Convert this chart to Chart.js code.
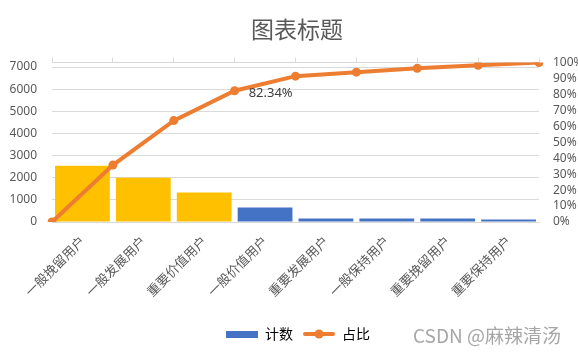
<!DOCTYPE html>
<html>
<head>
<meta charset="utf-8">
<script src="https://cdn.jsdelivr.net/npm/chart.js@4.4.1/dist/chart.umd.min.js"></script>
<style>
	html, body { margin: 0; padding: 0; background: #fff; }
	#wrap { width: 578px; height: 354px; }
</style>
</head>
<body>
<div id="wrap"><canvas id="chart" width="578" height="354"></canvas></div>
<script>
// Data
var categories = ['一般挽留用户', '一般发展用户', '重要价值用户', '一般价值用户', '重要发展用户', '一般保持用户', '重要挽留用户', '重要保持用户'];
var counts = [2540, 2000, 1330, 650, 160, 160, 160, 110];
var ratioLabels = ['', '一般挽留用户', '一般发展用户', '重要价值用户', '一般价值用户', '重要发展用户', '一般保持用户', '重要挽留用户', '重要保持用户'];
var ratio = [0, 35.7, 63.6, 82.34, 91.5, 94.0, 96.4, 98.3, 100];
var leftTicks = [0, 1000, 2000, 3000, 4000, 5000, 6000, 7000];
var rightTicks = [0, 10, 20, 30, 40, 50, 60, 70, 80, 90, 100];
var highlightCount = 3;

(function() {
	'use strict';

	var FONT = '"Noto Sans CJK SC", "Noto Sans", sans-serif';
	var NUMFONT = '"Noto Sans", "Noto Sans CJK SC", sans-serif';
	var GRID = '#d9d9d9';
	var TEXT = '#595959';
	var BLUE = '#4472C4';
	var GOLD = '#FFC000';
	var ORANGE = '#ED7D31';

	var barColors = counts.map(function(v, i) { return i < highlightCount ? GOLD : BLUE; });

	// Legend symbols drawn on small canvases
	var barSymbol = document.createElement('canvas');
	barSymbol.width = 32; barSymbol.height = 7;
	var bctx = barSymbol.getContext('2d');
	bctx.fillStyle = BLUE;
	bctx.fillRect(0, 0, 32, 7);

	var lineSymbol = document.createElement('canvas');
	lineSymbol.width = 32; lineSymbol.height = 10;
	var lctx = lineSymbol.getContext('2d');
	lctx.strokeStyle = ORANGE;
	lctx.lineWidth = 4;
	lctx.lineCap = 'round';
	lctx.beginPath(); lctx.moveTo(2, 5); lctx.lineTo(30, 5); lctx.stroke();
	lctx.fillStyle = ORANGE;
	lctx.beginPath(); lctx.arc(16, 5, 4.5, 0, Math.PI * 2); lctx.fill();

	function fixedTicks(list) {
		return function(scale) {
			scale.ticks = list.map(function(v) { return { value: v }; });
		};
	}

	var extras = {
		id: 'extras',
		afterLayout: function(chart) {
			// Title and legend sit a little right of centre in the original
			chart.titleBlock.left += 8;
			chart.titleBlock.right += 8;
			chart.legend.left += 9;
			chart.legend.right += 9;
		},
		afterDatasetsDraw: function(chart) {
			var ctx = chart.ctx;
			var pt = chart.getDatasetMeta(1).data[3];
			ctx.save();
			ctx.font = '13px ' + NUMFONT;
			ctx.fillStyle = '#404040';
			ctx.textAlign = 'left';
			ctx.textBaseline = 'middle';
			ctx.fillText(ratio[3].toFixed(2) + '%', pt.x + 14, pt.y + 3);
			ctx.restore();
		},
		afterDraw: function(chart) {
			var ctx = chart.ctx;
			ctx.save();
			ctx.font = '19px ' + FONT;
			ctx.fillStyle = '#a6a6a6';
			ctx.textAlign = 'left';
			ctx.textBaseline = 'middle';
			ctx.fillText('CSDN @麻辣清汤', 413, 336);
			ctx.restore();
		}
	};

	new Chart(document.getElementById('chart'), {
		type: 'bar',
		data: {
			labels: categories,
			datasets: [
				{
					type: 'bar',
					label: '计数',
					data: counts,
					backgroundColor: barColors,
					borderWidth: 0,
					grouped: false,
					barPercentage: 0.9,
					categoryPercentage: 1,
					xAxisID: 'x',
					yAxisID: 'y',
					order: 2
				},
				{
					type: 'line',
					label: '占比',
					data: ratio,
					borderColor: ORANGE,
					backgroundColor: ORANGE,
					borderWidth: 4,
					pointRadius: 4.5,
					pointBorderWidth: 0,
					pointBackgroundColor: ORANGE,
					tension: 0,
					fill: false,
					xAxisID: 'x2',
					yAxisID: 'y1',
					order: 1
				}
			]
		},
		options: {
			responsive: false,
			animation: false,
			layout: { padding: { left: 0, right: 0, top: 0, bottom: 3 } },
			plugins: {
				title: {
					display: true,
					text: '图表标题',
					color: TEXT,
					font: { family: FONT, size: 23, weight: 'normal' },
					padding: { top: 15, bottom: 14 }
				},
				legend: {
					position: 'bottom',
					labels: {
						usePointStyle: true,
						pointStyleWidth: 32,
						color: TEXT,
						font: { family: FONT, size: 14 },
						padding: 10,
						generateLabels: function() {
							return [
								{ text: '计数', pointStyle: barSymbol, fillStyle: BLUE, strokeStyle: BLUE, lineWidth: 0, datasetIndex: 0 },
								{ text: '占比', pointStyle: lineSymbol, fillStyle: ORANGE, strokeStyle: ORANGE, lineWidth: 0, datasetIndex: 1 }
							];
						}
					}
				},
				tooltip: { enabled: false }
			},
			scales: {
				x: {
					type: 'category',
					position: 'bottom',
					offset: true,
					grid: { display: false, drawTicks: false },
					border: { display: true, color: GRID },
					ticks: {
						color: TEXT,
						font: { family: FONT, size: 13 },
						maxRotation: 45,
						minRotation: 45,
						autoSkip: false,
						padding: 11
					},
					afterFit: function(scale) { scale.height = 95; }
				},
				x2: {
					type: 'category',
					position: 'top',
					labels: ratioLabels,
					offset: false,
					grid: { display: true, offset: false, drawOnChartArea: false, drawTicks: true, tickLength: 5, color: GRID },
					border: { display: true, color: GRID },
					ticks: { display: false },
					afterFit: function(scale) { scale.height = 6; }
				},
				y: {
					type: 'linear',
					position: 'left',
					min: 0,
					max: 7200,
					afterBuildTicks: fixedTicks(leftTicks),
					grid: { color: GRID, drawTicks: false },
					border: { display: false },
					ticks: {
						autoSkip: false,
						color: TEXT,
						font: { family: NUMFONT, size: 12 },
						padding: 15,
						callback: function(v) { return String(v); }
					},
					afterFit: function(scale) { scale.width = 52; }
				},
				y1: {
					type: 'linear',
					position: 'right',
					min: 0,
					max: 100,
					afterBuildTicks: fixedTicks(rightTicks),
					grid: { display: false, drawTicks: false },
					border: { display: false },
					ticks: {
						autoSkip: false,
						color: TEXT,
						font: { family: NUMFONT, size: 12 },
						padding: 14,
						callback: function(v) { return v + '%'; }
					},
					afterFit: function(scale) { scale.width = 39; }
				}
			}
		},
		plugins: [extras]
	});
})();
</script>
</body>
</html>
